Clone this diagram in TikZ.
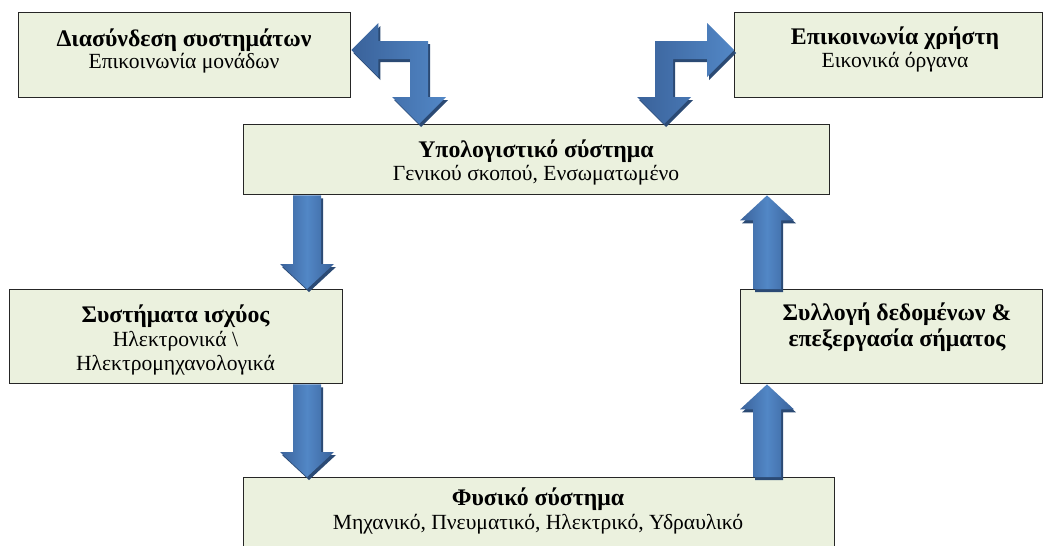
\documentclass[tikz,border=0pt]{standalone}
\usepackage{fontspec}
\setmainfont{Liberation Serif}
\usetikzlibrary{calc}
\definecolor{boxfill}{HTML}{EBF1DE}
\definecolor{arrmid}{HTML}{5287C6}
\definecolor{arredge}{HTML}{3A629A}
\definecolor{arrshadowc}{HTML}{2B4A74}
\tikzset{
  box/.style={draw=black!85, line width=1.4pt, fill=boxfill, inner sep=0pt, anchor=north west},
  ttl/.style={font=\fontsize{23.8}{26}\selectfont\bfseries, anchor=base, inner sep=0pt},
  subt/.style={font=\fontsize{21.6}{24}\selectfont, anchor=base, inner sep=0pt},
  arrshade/.style={left color=arredge, right color=arredge, middle color=arrmid},
  bentshade/.style={shading=axis, shading angle=45, left color=arredge, right color=arrmid},
  arrshadow/.style={fill=arrshadowc, transform canvas={shift={(2pt,-3pt)}}},
}
\newcommand\blockarr[2]{%
  \coordinate (s) at (#1);
  \coordinate (t) at (#2);
  \coordinate (hb) at ($(t)!25pt!(s)$);
  \coordinate (s1) at ($(s)!14pt!90:(t)$);
  \coordinate (s2) at ($(s)!14pt!-90:(t)$);
  \coordinate (h1) at ($(hb)!14pt!90:(t)$);
  \coordinate (h2) at ($(hb)!14pt!-90:(t)$);
  \coordinate (w1) at ($(hb)!27pt!90:(t)$);
  \coordinate (w2) at ($(hb)!27pt!-90:(t)$);
  \fill[arrshadow] (s1) -- (h1) -- (w1) -- (t) -- (w2) -- (h2) -- (s2) -- cycle;
  \shade[arrshade] (s1) -- (h1) -- (w1) -- (t) -- (w2) -- (h2) -- (s2) -- cycle;
}
\begin{document}
\begin{tikzpicture}[x=1pt, y=-1pt]
\path[use as bounding box] (0,0) rectangle (1045,546);
\clip (0,0) rectangle (1045,546);
\fill[white] (0,0) rectangle (1045,546);

% boxes
\node[box, minimum width=332pt, minimum height=85pt] (inter) at (18,12) {};
\node[box, minimum width=308pt, minimum height=85pt] (user) at (734,12) {};
\node[box, minimum width=586pt, minimum height=70pt] (comp) at (243,124) {};
\node[box, minimum width=333pt, minimum height=94pt] (power) at (9,289) {};
\node[box, minimum width=302pt, minimum height=94pt] (daq) at (740,289) {};
\node[box, minimum width=591pt, minimum height=100pt] (phys) at (243,477) {};

% texts
\node[ttl] (interT) at (184,46) {Διασύνδεση συστημάτων};
\node[subt] (interS) at (184,68) {Επικοινωνία μονάδων};
\node[ttl] (userT) at (895,45) {Επικοινωνία χρήστη};
\node[subt] (userS) at (895,67) {Εικονικά όργανα};
\node[ttl] (compT) at (536,157) {Υπολογιστικό σύστημα};
\node[subt] (compS) at (536,180) {Γενικού σκοπού, Ενσωματωμένο};
\node[ttl] (powerT) at (175.5,322) {Συστήματα ισχύος};
\node[subt] (powerS1) at (175.5,346) {Ηλεκτρονικά \textbackslash};
\node[subt] (powerS2) at (175.5,370) {Ηλεκτρομηχανολογικά};
\node[ttl] (daqT1) at (897,320) {Συλλογή δεδομένων \&};
\node[ttl] (daqT2) at (897,346) {επεξεργασία σήματος};
\node[ttl] (physT) at (538,505) {Φυσικό σύστημα};
\node[subt] (physS) at (538,529) {Μηχανικό, Πνευματικό, Ηλεκτρικό, Υδραυλικό};

% straight block arrows
\coordinate (xa) at (307,0);
\coordinate (xb) at (767,0);
\blockarr{xa |- comp.south}{xa |- power.north}
\blockarr{xa |- power.south}{xa |- phys.north}
\blockarr{xb |- phys.north}{xb |- daq.south}
\blockarr{xb |- daq.north}{xb |- comp.south}

% bent arrows
\coordinate (cl) at (419,50);
\coordinate (cr) at (664,50);
\coordinate (TL1) at (inter.east |- cl);
\coordinate (TL2) at (cl |- comp.north);
\coordinate (TR1) at (user.west |- cr);
\coordinate (TR2) at (cr |- comp.north);
\newcommand\bentL{(TL1) -- ($(TL1)+(27,-27)$) -- ($(TL1)+(27,-9)$) -- ($(cl)+(9,-9)$)
  -- ($(TL2)+(9,-27)$) -- ($(TL2)+(27,-27)$) -- (TL2) -- ($(TL2)+(-27,-27)$)
  -- ($(TL2)+(-9,-27)$) -- ($(cl)+(-9,9)$) -- ($(TL1)+(27,9)$) -- ($(TL1)+(27,27)$) -- cycle}
\newcommand\bentR{(TR1) -- ($(TR1)+(-27,-27)$) -- ($(TR1)+(-27,-9)$) -- ($(cr)+(-9,-9)$)
  -- ($(TR2)+(-9,-27)$) -- ($(TR2)+(-27,-27)$) -- (TR2) -- ($(TR2)+(27,-27)$)
  -- ($(TR2)+(9,-27)$) -- ($(cr)+(9,9)$) -- ($(TR1)+(-27,9)$) -- ($(TR1)+(-27,27)$) -- cycle}
\fill[arrshadow] \bentL;
\shade[bentshade] \bentL;
\fill[arrshadow] \bentR;
\shade[bentshade] \bentR;
\end{tikzpicture}
\end{document}
